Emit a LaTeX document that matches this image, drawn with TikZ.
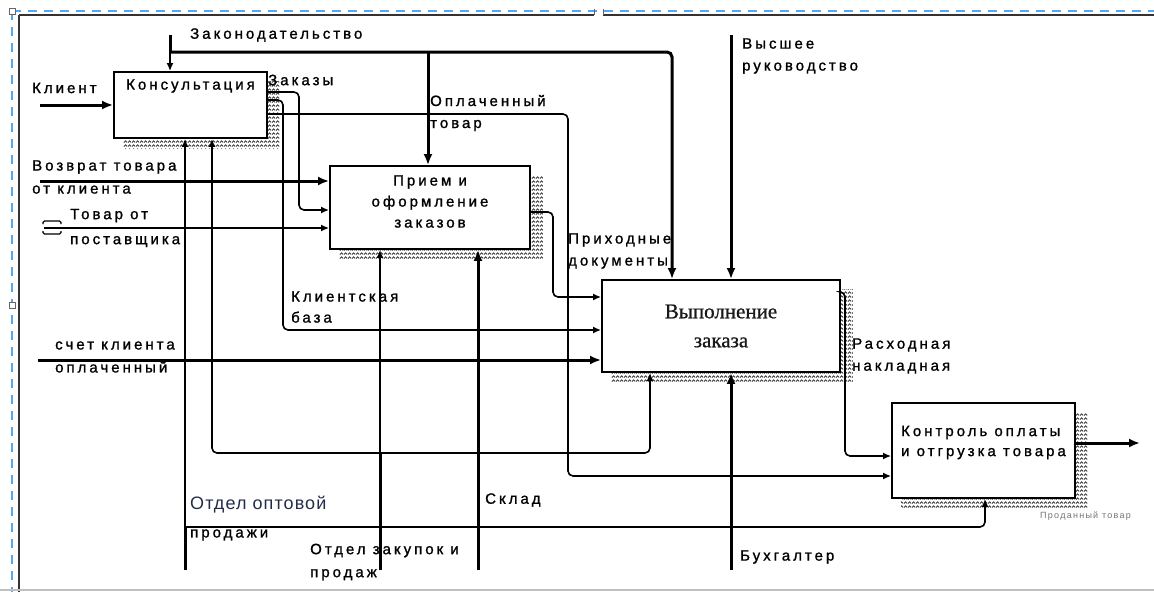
\documentclass[tikz,border=0pt]{standalone}
\usepackage{fontspec}
\setmainfont{Liberation Sans}
\newfontfamily\lblfont[LetterSpace=20,FakeBold=1.2]{Liberation Sans}
\newfontfamily\plainfont{Liberation Sans}
\newfontfamily\deptfont[LetterSpace=6]{Liberation Sans}
\newfontfamily\tinyfont[LetterSpace=14]{Liberation Sans}
\newfontfamily\serfont[FakeBold=0.8]{Liberation Serif}
\usetikzlibrary{arrows.meta,patterns.meta,backgrounds}
\definecolor{dashblue}{RGB}{90,165,240}
\definecolor{deptcol}{RGB}{35,45,75}
\tikzdeclarepattern{
  name=zigzag, type=uncolored,
  bounding box={(0pt,0pt) and (4pt,3.5pt)},
  tile size={(4pt,3.5pt)},
  code={
    \pgfsetlinewidth{1.2pt}
    \pgfpathmoveto{\pgfpoint{0pt}{0.6pt}}
    \pgfpathlineto{\pgfpoint{2pt}{2.4pt}}
    \pgfpathlineto{\pgfpoint{4pt}{0.6pt}}
    \pgfusepath{stroke}
  }}
\begin{document}
\begin{tikzpicture}[x=1pt,y=-1pt,
  lbl/.style={font=\lblfont\fontsize{15}{22}\selectfont, inner sep=0pt, anchor=west, text=black, align=left},
  box/.style={draw=black, line width=1.8pt, fill=white, inner sep=0pt},
  shade/.style={pattern=zigzag, pattern color=black!75},
  thk/.style={line width=3pt},
  thn/.style={line width=1.6pt},
  arr/.style={-{Latex[length=11pt,width=9pt]}},
  sarr/.style={-{Latex[length=8pt,width=7pt]}},
  rc/.style={rounded corners=5pt}
]
\useasboundingbox (0,0) rectangle (1154,592);
% frame
\draw[dashblue, line width=1.6pt, dash pattern=on 9pt off 7pt] (12,11) -- (1154,11);
\draw[dashblue, line width=1.6pt, dash pattern=on 9pt off 7pt] (12,11) -- (12,592);
\draw[black!80, line width=1.5pt] (19,15) -- (594,15) (603,15) -- (1154,15);
\draw[black!60, line width=1pt] (594,9) -- (594,15) (603,9) -- (603,15);
\draw[black!80, line width=1.5pt] (19,15) -- (19,592);
\draw[black!25, line width=1.2pt] (0,590) -- (1154,590);
\draw[black!60, line width=0.8pt, fill=white] (9,8) rectangle (15,14);
\draw[black!60, line width=0.8pt, fill=white] (9,302) rectangle (15,308);

% boxes
\node[box, minimum width=153pt, minimum height=66pt,
      label={[lbl, anchor=north, yshift=-8pt]north:Консультация}] (kons) at (190.5,105) {};
\node[box, minimum width=200pt, minimum height=83pt,
      label={[lbl, anchor=center, align=center, yshift=6pt, font=\lblfont\fontsize{15}{21}\selectfont]center:{Прием и\\оформление\\заказов}}] (priem) at (430,207.5) {};
\node[box, minimum width=238pt, minimum height=92pt,
      label={[font=\serfont\fontsize{21}{29}\selectfont, anchor=center, align=center, text=black!90]center:{Выполнение\\заказа}}] (vyp) at (721,326) {};
\node[box, minimum width=183pt, minimum height=95pt,
      label={[lbl, anchor=center, align=left, yshift=8pt, font=\lblfont\fontsize{15}{20}\selectfont]center:{Контроль оплаты\\и отгрузка товара}}] (kontr) at (983.5,450.5) {};

\begin{scope}[on background layer]
\fill[shade] ([xshift=10pt,yshift=-10pt]kons.south west) rectangle ([xshift=12pt,yshift=-10pt]kons.north east);
\fill[shade] ([xshift=10pt,yshift=-10pt]priem.south west) rectangle ([xshift=12pt,yshift=-10pt]priem.north east);
\fill[shade] ([xshift=10pt,yshift=-10pt]vyp.south west) rectangle ([xshift=12pt,yshift=-10pt]vyp.north east);
\fill[shade] ([xshift=10pt,yshift=-10pt]kontr.south west) rectangle ([xshift=12pt,yshift=-10pt]kontr.north east);
\end{scope}

% coordinates
\coordinate (zak0) at (170,35);
\coordinate (zakJ) at (170,52);
\coordinate (xZ) at (672,52);
\coordinate (xP) at (428,52);
\coordinate (vr0) at (731,35);
\coordinate (kl0) at (40,105);
\coordinate (zk1) at (299,92);
\coordinate (zk2) at (299,210);
\coordinate (kb1) at (283,100);
\coordinate (kb2) at (283,330);
\coordinate (ot1) at (568,114);
\coordinate (ot2) at (568,476);
\coordinate (vz0) at (40,181);
\coordinate (tp0) at (44,228);
\coordinate (pd1) at (553,212);
\coordinate (pd2) at (553,297);
\coordinate (sk0) at (38,360);
\coordinate (rn1) at (845,292);
\coordinate (rn2) at (845,456);
\coordinate (pt1) at (1140,443);
\coordinate (oo0) at (185,570);
\coordinate (ooJ) at (185,527);
\coordinate (oo2) at (985,527);
\coordinate (oz0) at (380,570);
\coordinate (ozJ) at (380,453);
\coordinate (ozL) at (212,453);
\coordinate (ozR) at (650,453);
\coordinate (skl) at (478,570);
\coordinate (bh) at (731,570);

% controls
\draw[thk] (zak0) -- (zakJ);
\draw[thn,sarr] (zakJ) -- (zakJ |- kons.north);
\draw[thk,arr,rc] (zakJ) -- (xZ) -- (xZ |- vyp.north);
\draw[thk,arr] (xP) -- (xP |- priem.north);
\draw[thk,arr] (vr0) -- (vr0 |- vyp.north);

% inputs
\draw[thk,arr] (kl0) -- (kl0 -| kons.west);
\draw[thk,arr] (vz0) -- (vz0 -| priem.west);
\draw[thn,sarr] (tp0) -- (tp0 -| priem.west);
\draw[thk,arr] (sk0) -- (sk0 -| vyp.west);
% tunnel bracket
\draw[black, line width=1.2pt, rounded corners=1.5pt] (43,224) -- (43,221) -- (61,221) -- (61,224);
\draw[black, line width=1.2pt, rounded corners=1.5pt] (43,231) -- (43,234) -- (61,234) -- (61,231);

% internal arrows
\draw[thn,sarr,rc] (zk1 -| kons.east) -- (zk1) -- (zk2) -- (zk2 -| priem.west);
\draw[thn,sarr,rc] (kb1 -| kons.east) -- (kb1) -- (kb2) -- (kb2 -| vyp.west);
\draw[thn,sarr,rc] (ot1 -| kons.east) -- (ot1) -- (ot2) -- (ot2 -| kontr.west);
\draw[thn,sarr,rc] (pd1 -| priem.east) -- (pd1) -- (pd2) -- (pd2 -| vyp.west);
\draw[thn,sarr,rc] (rn1 -| vyp.east) -- (rn1) -- (rn2) -- (rn2 -| kontr.west);
\draw[thk,arr] (pt1 -| kontr.east) -- (pt1);

% mechanisms
\draw[thk] (oo0) -- (ooJ);
\draw[thn,sarr] (ooJ) -- (ooJ |- kons.south);
\draw[thn,sarr,rc] (ooJ) -- (oo2) -- (oo2 |- kontr.south);
\draw[thk] (oz0) -- (ozJ);
\draw[thn,sarr] (ozJ) -- (ozJ |- priem.south);
\draw[thn,sarr,rc] (ozJ) -- (ozL) -- (ozL |- kons.south);
\draw[thn,sarr,rc] (ozJ) -- (ozR) -- (ozR |- vyp.south);
\draw[thk,arr] (skl) -- (skl |- priem.south);
\draw[thk,arr] (bh) -- (bh |- vyp.south);

% labels
\node[lbl] (tZak) at (190,35) {Законодательство};
\node[lbl] (tVR) at (742,56) {Высшее\\руководство};
\node[lbl] (tKl) at (32,88) {Клиент};
\node[lbl] (tZk) at (268,80) {Заказы};
\node[lbl] (tOT) at (430,113) {Оплаченный\\товар};
\node[lbl, font=\lblfont\fontsize{15}{23}\selectfont] (tVz) at (32,177) {Возврат товара\\от клиента};
\node[lbl, font=\lblfont\fontsize{15}{25}\selectfont] (tTP) at (70,228) {Товар от\\поставщика};
\node[lbl] (tPD) at (568,251) {Приходные\\документы};
\node[lbl, font=\lblfont\fontsize{15}{21}\selectfont] (tKB) at (291,307) {Клиентская\\база};
\node[lbl, font=\lblfont\fontsize{15}{23}\selectfont] (tSK) at (55,357) {счет клиента\\оплаченный};
\node[lbl] (tRN) at (852,356) {Расходная\\накладная};
\node[lbl, font=\deptfont\fontsize{18}{20}\selectfont, text=deptcol] (tOO) at (190,505) {Отдел оптовой};
\node[lbl] (tOO2) at (190,535) {продажи};
\node[lbl, font=\lblfont\fontsize{15}{23}\selectfont] (tOZ) at (310,562) {Отдел закупок и\\продаж};
\node[lbl] (tSkl) at (485,500) {Склад};
\node[lbl] (tBh) at (740,557) {Бухгалтер};
\node[lbl, font=\tinyfont\fontsize{9}{10}\selectfont, text=black!55] (tPT) at (1040,516) {Проданный товар};
\end{tikzpicture}
\end{document}
